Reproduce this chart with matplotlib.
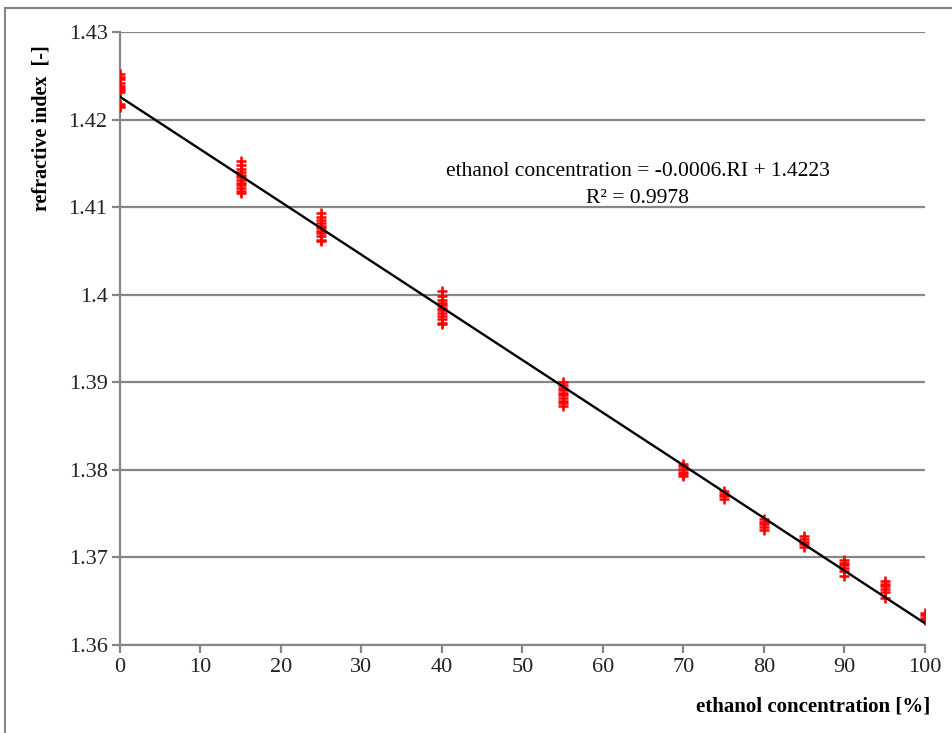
import matplotlib
matplotlib.use('Agg')

import numpy as np
import matplotlib.pyplot as plt
from matplotlib.lines import Line2D

# measured refractive index per ethanol concentration (%)
conc_levels = [0, 15, 25, 40, 55, 70, 75, 80, 85, 90, 95, 100]
ri_0 = [1.4252, 1.4249, 1.4246, 1.4242, 1.4238, 1.4236, 1.4234, 1.4232, 1.4218, 1.4216, 1.4214]
ri_15 = [1.4153, 1.4148, 1.4143, 1.4140, 1.4137, 1.4134, 1.4131, 1.4128, 1.4125, 1.4122, 1.4118, 1.4116]
ri_25 = [1.4093, 1.4089, 1.4085, 1.4082, 1.4079, 1.4076, 1.4073, 1.4070, 1.4067, 1.4063, 1.4061]
ri_40 = [1.4004, 1.3998, 1.3994, 1.3991, 1.3988, 1.3985, 1.3982, 1.3979, 1.3976, 1.3972, 1.3968, 1.3966]
ri_55 = [1.3900, 1.3897, 1.3894, 1.3891, 1.3888, 1.3885, 1.3882, 1.3879, 1.3876, 1.3873]
ri_70 = [1.3807, 1.3804, 1.3801, 1.3798, 1.3795, 1.3793]
ri_75 = [1.3776, 1.3773, 1.3770, 1.3767]
ri_80 = [1.3744, 1.3741, 1.3738, 1.3735, 1.3731]
ri_85 = [1.3724, 1.3721, 1.3718, 1.3715, 1.3712]
ri_90 = [1.3697, 1.3694, 1.3691, 1.3688, 1.3684, 1.3679]
ri_95 = [1.3673, 1.3670, 1.3667, 1.3664, 1.3660, 1.3654]
ri_100 = [1.3637, 1.3634, 1.3631, 1.3629]
ri_groups = [ri_0, ri_15, ri_25, ri_40, ri_55, ri_70, ri_75, ri_80, ri_85, ri_90, ri_95, ri_100]

eq_text = 'ethanol concentration = -0.0006.RI + 1.4223'
r2_text = 'R² = 0.9978'

x_all = np.concatenate([[c] * len(g) for c, g in zip(conc_levels, ri_groups)])
y_all = np.concatenate(ri_groups)

plt.rcParams['font.family'] = 'Liberation Serif'
grey = '#868686'

fig = plt.figure(figsize=(9.53, 7.33), dpi=100)
ax = fig.add_axes([120 / 953, 1 - 645 / 733, 805 / 953, 613 / 733])

ax.plot(x_all, y_all, linestyle='none', marker='+', color='red',
        markersize=6.5, markeredgewidth=1.8, zorder=3)

# linear trendline
slope, intercept = np.polyfit(x_all, y_all, 1)
xf = np.array([0, 100])
ax.plot(xf, slope * xf + intercept, color='black', linewidth=1.7, zorder=4)

ax.set_xlim(0, 100)
ax.set_ylim(1.36, 1.43)
ax.set_xticks(np.arange(0, 101, 10))
ax.set_yticks(np.round(np.arange(1.36, 1.4301, 0.01), 2))
ax.set_yticklabels(['1.36', '1.37', '1.38', '1.39', '1.4', '1.41', '1.42', '1.43'])
ax.yaxis.grid(True, color=grey, linewidth=1.6)
ax.set_axisbelow(True)
for s in ['top', 'right']:
    ax.spines[s].set_visible(False)
for s in ['left', 'bottom']:
    ax.spines[s].set_color(grey)
    ax.spines[s].set_linewidth(1.6)
ax.tick_params(axis='both', colors=grey, width=1.6, length=6, labelsize=16,
               labelcolor='#222222', pad=3)

ax.text(0.643, 0.772, eq_text, transform=ax.transAxes, ha='center', va='center',
        fontsize=15.5)
ax.text(0.643, 0.729, r2_text, transform=ax.transAxes, ha='center', va='center',
        fontsize=15.5)

fig.text(42 / 953, 1 - 45 / 733, 'refractive index  [-]', rotation=90, ha='center',
         va='top', fontsize=14.5, fontweight='bold')
fig.text(930 / 953, 1 - 707 / 733, 'ethanol concentration [%]', ha='right',
         va='center', fontsize=15, fontweight='bold')

# outer chart frame
fig.add_artist(Line2D([5 / 953, 1], [1 - 8 / 733] * 2, color=grey, linewidth=1.5,
                      transform=fig.transFigure))
fig.add_artist(Line2D([5 / 953] * 2, [0, 1 - 8 / 733], color=grey, linewidth=1.5,
                      transform=fig.transFigure))

fig.savefig('out.png', dpi=100)
